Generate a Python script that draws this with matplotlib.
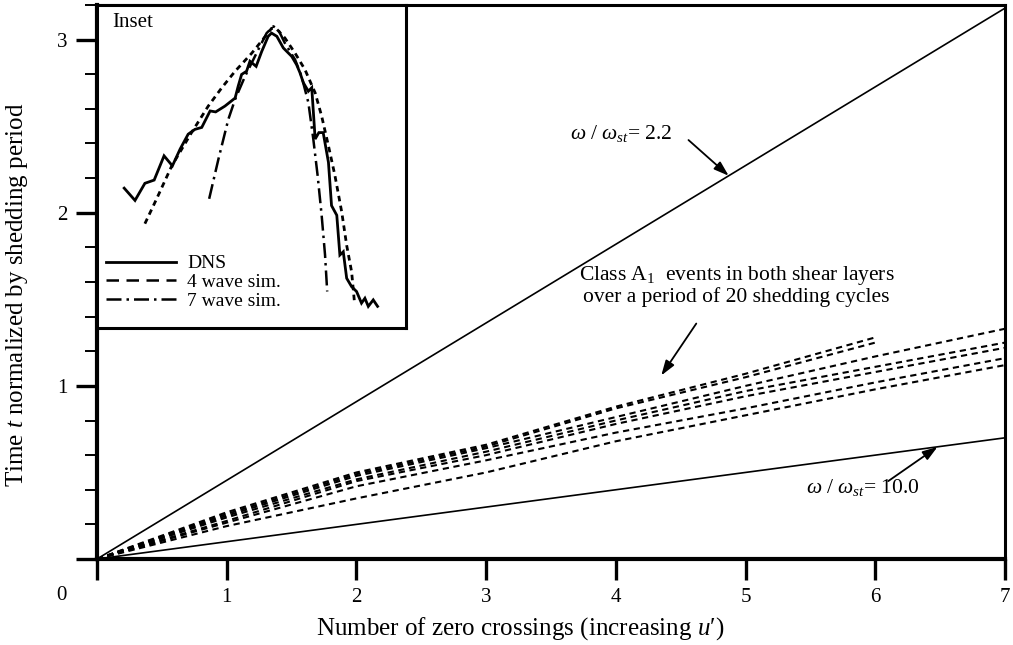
import numpy as np
import matplotlib
matplotlib.use("Agg")
import matplotlib.pyplot as plt
from matplotlib.lines import Line2D

plt.rcParams['font.family'] = ['Liberation Serif', 'DejaVu Serif']
plt.rcParams['mathtext.fontset'] = 'custom'
plt.rcParams['mathtext.rm'] = 'Liberation Serif'
plt.rcParams['mathtext.it'] = 'Liberation Serif:italic'
plt.rcParams['mathtext.bf'] = 'Liberation Serif:bold'

# ---- main panel data -------------------------------------------------------
crossings = [0, 1, 2, 3, 4, 5, 6, 7]

# normalized time of each zero crossing, one list per event (Class A1)
event_1 = [0, 0.27, 0.50, 0.66, 0.88, 1.07, 1.28]
event_2 = [0, 0.26, 0.49, 0.65, 0.87, 1.05, 1.25]
event_3 = [0, 0.25, 0.48, 0.64, 0.82, 1.00, 1.17, 1.33]
event_4 = [0, 0.24, 0.46, 0.62, 0.80, 0.97, 1.11, 1.25]
event_5 = [0, 0.22, 0.45, 0.60, 0.78, 0.94, 1.08, 1.22]
event_6 = [0, 0.21, 0.42, 0.57, 0.73, 0.87, 1.02, 1.16]
event_7 = [0, 0.19, 0.35, 0.50, 0.68, 0.83, 0.98, 1.12]
events = [event_1, event_2, event_3, event_4, event_5, event_6, event_7]

# constant-frequency reference lines  t = n / (omega / omega_st)
freq_ratios = [2.2, 10.0]

x_tick_labels = ['', '1', '2', '3', '4', '5', '6', '7']
y_tick_labels = ['', '1', '2', '3']

# ---- inset data (inset frame units, 0..1) ---------------------------------
dns_x = [0.088, 0.123, 0.155, 0.185, 0.217, 0.244, 0.269, 0.295, 0.317, 0.339,
         0.366, 0.384, 0.414, 0.447, 0.457, 0.468, 0.484, 0.495, 0.515, 0.533,
         0.554, 0.565, 0.582, 0.603, 0.630, 0.646, 0.657, 0.668, 0.684, 0.695,
         0.706, 0.718, 0.732, 0.749, 0.759, 0.776, 0.786, 0.797, 0.808, 0.824,
         0.840, 0.856, 0.867, 0.878, 0.894, 0.908]
dns_y = [0.433, 0.395, 0.448, 0.458, 0.533, 0.502, 0.554, 0.600, 0.615, 0.621,
         0.672, 0.669, 0.687, 0.712, 0.749, 0.785, 0.795, 0.826, 0.810, 0.856,
         0.903, 0.913, 0.903, 0.867, 0.841, 0.815, 0.790, 0.759, 0.733, 0.744,
         0.585, 0.605, 0.605, 0.513, 0.379, 0.349, 0.226, 0.236, 0.154, 0.128,
         0.113, 0.077, 0.092, 0.067, 0.087, 0.067]

wave4_x = [0.155, 0.193, 0.242, 0.306, 0.360, 0.404, 0.447, 0.501, 0.544, 0.565,
           0.582, 0.608, 0.641, 0.673, 0.706, 0.727, 0.749, 0.770, 0.792, 0.808,
           0.824, 0.833]
wave4_y = [0.323, 0.400, 0.502, 0.605, 0.687, 0.744, 0.795, 0.851, 0.902, 0.928,
           0.925, 0.898, 0.851, 0.800, 0.728, 0.656, 0.564, 0.472, 0.359, 0.256,
           0.174, 0.082]

wave7_x = [0.363, 0.393, 0.425, 0.447, 0.479, 0.522, 0.549, 0.571, 0.587, 0.608,
           0.641, 0.662, 0.684, 0.700, 0.714, 0.727, 0.738, 0.745]
wave7_y = [0.400, 0.523, 0.646, 0.708, 0.779, 0.862, 0.913, 0.934, 0.923, 0.882,
           0.831, 0.779, 0.698, 0.585, 0.472, 0.349, 0.226, 0.113]

# ---- figure ---------------------------------------------------------------
W, H = 1013, 645
fig = plt.figure(figsize=(W / 100, H / 100), dpi=100)
ax = fig.add_axes([97 / W, (H - 559) / H, 908 / W, 554 / H])

ax.set_xlim(0, 7)
ax.set_ylim(0, 3.2)

for ev in events:
    ax.plot(crossings[:len(ev)], ev, color='black', lw=1.5,
            linestyle=(0, (3.0, 2.2)), dash_capstyle='butt')

n = np.array([0, 7])
for r in freq_ratios:
    ax.plot(n, n / r, color='black', lw=1.2)

# annotations
arrow = dict(arrowstyle='-|>,head_length=0.9,head_width=0.3', color='black',
             lw=1.3, shrinkA=0, shrinkB=0)
ax.annotate('', xy=(4.87, 4.87 / 2.2), xytext=(4.56, 2.42), arrowprops=arrow)
ax.text(4.04, 2.46, r'$\omega\ /\ \omega_{st}$= 2.2', ha='center', va='center',
        fontsize=15.5)

ax.annotate('', xy=(6.48, 6.48 / 10.0), xytext=(6.1, 0.45), arrowprops=arrow)
ax.text(5.9, 0.415, r'$\omega\ /\ \omega_{st}$= 10.0', ha='center', va='center',
        fontsize=15.5)

ax.annotate('', xy=(4.35, 1.06), xytext=(4.62, 1.36), arrowprops=arrow)
ax.text(4.93, 1.58,
        'Class A$\\mathregular{_1}$  events in both shear layers\n'
        'over a period of 20 shedding cycles',
        ha='center', va='center', fontsize=15.5, linespacing=1.05)

# axes styling
ax.set_xticks(crossings)
ax.set_xticklabels(x_tick_labels)
ax.set_yticks([0, 1, 2, 3])
ax.set_yticklabels(y_tick_labels)
ax.set_yticks(np.arange(0, 3.21, 0.2), minor=True)
ax.tick_params(which='major', direction='out', length=15, width=2.4,
               labelsize=15, pad=6, color='black')
ax.tick_params(which='minor', direction='out', length=8.5, width=1.4)
ax.tick_params(axis='x', which='minor', bottom=False)
for side in ('left', 'bottom'):
    ax.spines[side].set_linewidth(3.0)
for side in ('top', 'right'):
    ax.spines[side].set_linewidth(2.2)

fig.text(61 / W, 1 - 595 / H, '0', ha='center', va='center', fontsize=15)

ax.set_xlabel("Number of zero crossings (increasing $u$\u2032)", fontsize=18)
ax.xaxis.set_label_coords((520 - 97) / 908, (559 - 615) / 554)
ax.set_ylabel('Time $t$ normalized by shedding period', fontsize=18)
ax.yaxis.set_label_coords((30 - 97) / 908, (559 - 295) / 554)

# ---- inset ----------------------------------------------------------------
ins = fig.add_axes([97 / W, (H - 328) / H, 309 / W, 323 / H])
ins.set_xlim(0, 1)
ins.set_ylim(0, 1)
ins.set_xticks([])
ins.set_yticks([])
for s in ins.spines.values():
    s.set_linewidth(2.2)

ins.plot(dns_x, dns_y, color='black', lw=2.0, solid_joinstyle='miter')
ins.plot(wave4_x, wave4_y, color='black', lw=2.0, linestyle=(0, (2.0, 1.6)))
ins.plot(wave7_x, wave7_y, color='black', lw=1.8, linestyle=(0, (6, 2, 1, 2)))

ins.text(0.05, 0.975, 'Inset', ha='left', va='top', fontsize=15,
         transform=ins.transAxes)

h_dns = Line2D([], [], color='black', lw=2.0)
h_w4 = Line2D([], [], color='black', lw=1.8, linestyle=(0, (5, 3)))
h_w7 = Line2D([], [], color='black', lw=1.8, linestyle=(0, (6, 2, 1, 2)))
ins.legend([h_dns, h_w4, h_w7], ['DNS', '4 wave sim.', '7 wave sim.'],
           loc='lower left', bbox_to_anchor=(0.0, 0.03), frameon=False,
           fontsize=14, handlelength=3.6, handletextpad=0.6,
           labelspacing=0.05, borderaxespad=0.25, borderpad=0.2)

fig.savefig('out.png', dpi=100)
